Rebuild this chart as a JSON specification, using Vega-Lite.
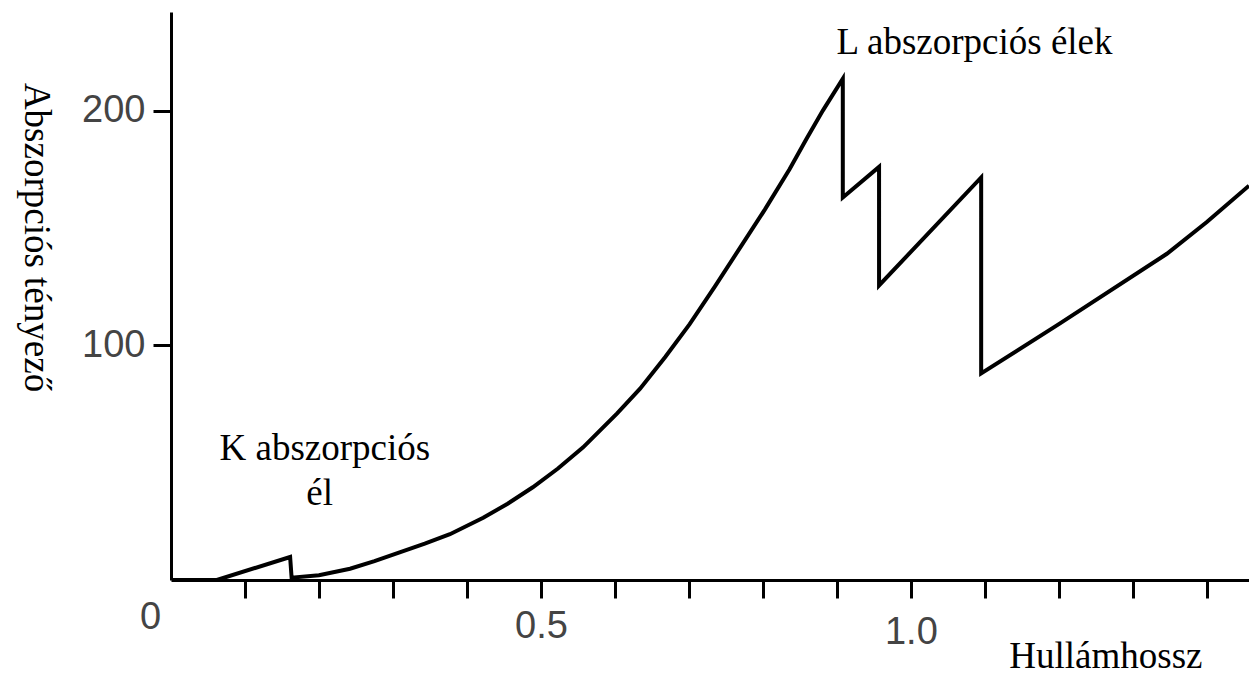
{
  "$schema": "https://vega.github.io/schema/vega-lite/v6.json",
  "width": 1078,
  "height": 568,
  "autosize": {"type": "none"},
  "padding": {"left": 171, "top": 12, "right": 0, "bottom": 95},
  "background": "white",
  "config": {"view": {"stroke": null}, "axis": {"grid": false}},
  "datasets": {
    "curve": [
      {"i": 1, "hossz": 0.0, "tenyezo": 0},
      {"i": 2, "hossz": 0.062, "tenyezo": 0},
      {"i": 3, "hossz": 0.161, "tenyezo": 9.8},
      {"i": 4, "hossz": 0.163, "tenyezo": 1.0},
      {"i": 5, "hossz": 0.2, "tenyezo": 2.0},
      {"i": 6, "hossz": 0.242, "tenyezo": 4.8},
      {"i": 7, "hossz": 0.275, "tenyezo": 8.0},
      {"i": 8, "hossz": 0.309, "tenyezo": 11.8},
      {"i": 9, "hossz": 0.343, "tenyezo": 15.5},
      {"i": 10, "hossz": 0.377, "tenyezo": 19.5},
      {"i": 11, "hossz": 0.422, "tenyezo": 26.5},
      {"i": 12, "hossz": 0.455, "tenyezo": 32.5},
      {"i": 13, "hossz": 0.489, "tenyezo": 39.5},
      {"i": 14, "hossz": 0.523, "tenyezo": 47.5},
      {"i": 15, "hossz": 0.557, "tenyezo": 56.5},
      {"i": 16, "hossz": 0.603, "tenyezo": 71},
      {"i": 17, "hossz": 0.634, "tenyezo": 81.5},
      {"i": 18, "hossz": 0.668, "tenyezo": 95},
      {"i": 19, "hossz": 0.701, "tenyezo": 109},
      {"i": 20, "hossz": 0.735, "tenyezo": 125},
      {"i": 21, "hossz": 0.769, "tenyezo": 141.5},
      {"i": 22, "hossz": 0.803, "tenyezo": 158},
      {"i": 23, "hossz": 0.836, "tenyezo": 175},
      {"i": 24, "hossz": 0.859, "tenyezo": 188},
      {"i": 25, "hossz": 0.881, "tenyezo": 200},
      {"i": 26, "hossz": 0.908, "tenyezo": 213.6},
      {"i": 27, "hossz": 0.908, "tenyezo": 163},
      {"i": 28, "hossz": 0.957, "tenyezo": 176},
      {"i": 29, "hossz": 0.957, "tenyezo": 125.5},
      {"i": 30, "hossz": 1.095, "tenyezo": 171.5},
      {"i": 31, "hossz": 1.095, "tenyezo": 88},
      {"i": 32, "hossz": 1.2, "tenyezo": 109},
      {"i": 33, "hossz": 1.346, "tenyezo": 139},
      {"i": 34, "hossz": 1.4, "tenyezo": 152.5},
      {"i": 35, "hossz": 1.457, "tenyezo": 168}
    ],
    "notes": [
      {"hossz": 0.208, "tenyezo": 51, "label": "K abszorpciós"},
      {"hossz": 0.201, "tenyezo": 32, "label": "él"},
      {"hossz": 1.086, "tenyezo": 224, "label": "L abszorpciós élek"}
    ]
  },
  "layer": [
    {
      "data": {"name": "curve"},
      "mark": {"type": "line", "color": "black", "strokeWidth": 4, "clip": true, "strokeJoin": "miter"},
      "encoding": {
        "x": {
          "field": "hossz",
          "type": "quantitative",
          "scale": {"domain": [0, 1.457], "nice": false, "zero": false},
          "axis": {
            "values": [0, 0.1, 0.2, 0.3, 0.4, 0.5, 0.6, 0.7, 0.8, 0.9, 1.0, 1.1, 1.2, 1.3, 1.4],
            "title": "Hullámhossz",
            "titleFont": "Liberation Serif",
            "titleFontSize": 37,
            "titleFontWeight": "normal",
            "titleColor": "black",
            "titleAlign": "right",
            "titleBaseline": "alphabetic",
            "titleX": 1031,
            "titleY": 87,
            "domainColor": "black",
            "domainWidth": 3,
            "tickColor": "black",
            "tickWidth": 3,
            "tickSize": 18,
            "tickOpacity": {"condition": {"test": "datum.value == 0", "value": 0}, "value": 1},
            "labelExpr": "datum.value == 0 ? '0' : datum.value == 0.5 ? '0.5' : datum.value == 1 ? '1.0' : ''",
            "labelFont": "Liberation Sans",
            "labelFontSize": 38,
            "labelColor": "#444444",
            "labelPadding": {"condition": [{"test": "datum.value == 0", "value": 0}, {"test": "datum.value == 1", "value": 15}], "value": 9},
            "labelOffset": {"condition": {"test": "datum.value == 0", "value": -21}, "value": 0},
            "labelFlush": false,
            "labelOverlap": false,
            "labelBound": false
          }
        },
        "y": {
          "field": "tenyezo",
          "type": "quantitative",
          "scale": {"domain": [0, 242], "nice": false},
          "axis": {
            "values": [100, 200],
            "title": "Abszorpciós tényező",
            "titleFont": "Liberation Serif",
            "titleFontSize": 37,
            "titleFontWeight": "normal",
            "titleColor": "black",
            "titleAngle": 90,
            "titleAlign": "center",
            "titleBaseline": "middle",
            "titleX": -136,
            "titleY": 225,
            "domainColor": "black",
            "domainWidth": 3,
            "tickColor": "black",
            "tickWidth": 3,
            "tickSize": 18,
            "labelFont": "Liberation Sans",
            "labelFontSize": 38,
            "labelColor": "#444444",
            "labelPadding": 8
          }
        },
        "order": {"field": "i", "type": "quantitative"}
      }
    },
    {
      "data": {"name": "notes"},
      "mark": {"type": "text", "font": "Liberation Serif", "fontSize": 37, "align": "center", "baseline": "alphabetic", "color": "black"},
      "encoding": {
        "x": {"field": "hossz", "type": "quantitative"},
        "y": {"field": "tenyezo", "type": "quantitative"},
        "text": {"field": "label", "type": "nominal"}
      }
    }
  ]
}
